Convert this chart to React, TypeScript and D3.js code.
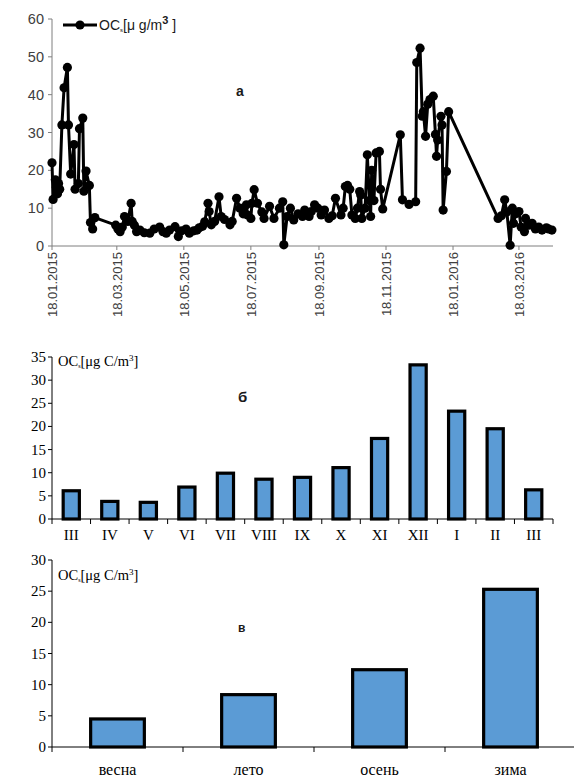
import React from "react";
import * as d3 from "d3";

// ---------- Chart а: daily OC ----------
const ocDates = [
  "2015-01-18","2015-01-19","2015-01-21","2015-01-22","2015-01-23","2015-01-24","2015-01-25","2015-01-27","2015-01-29","2015-02-01",
  "2015-02-02","2015-02-04","2015-02-07","2015-02-08","2015-02-11","2015-02-12","2015-02-15","2015-02-16","2015-02-18","2015-02-21",
  "2015-02-22","2015-02-24","2015-02-26","2015-03-17","2015-03-19","2015-03-21","2015-03-23","2015-03-25","2015-03-28","2015-03-31",
  "2015-04-01","2015-04-03","2015-04-05","2015-04-08","2015-04-12","2015-04-17","2015-04-21","2015-04-26","2015-04-29","2015-05-02",
  "2015-05-05","2015-05-10","2015-05-13","2015-05-16","2015-05-20","2015-05-23","2015-05-27","2015-05-30","2015-06-01","2015-06-04",
  "2015-06-06","2015-06-09","2015-06-10","2015-06-12","2015-06-15","2015-06-19","2015-06-21","2015-06-24","2015-06-29","2015-07-01",
  "2015-07-05","2015-07-08","2015-07-11","2015-07-14","2015-07-15","2015-07-18","2015-07-19","2015-07-21","2015-07-24","2015-07-28",
  "2015-07-30","2015-08-04","2015-08-08","2015-08-13","2015-08-16","2015-08-17","2015-08-20","2015-08-23","2015-08-26","2015-08-30",
  "2015-09-03","2015-09-05","2015-09-09","2015-09-11","2015-09-14","2015-09-17","2015-09-20","2015-09-23","2015-09-27","2015-09-30",
  "2015-10-03","2015-10-08","2015-10-10","2015-10-12","2015-10-14","2015-10-16","2015-10-18","2015-10-21","2015-10-23","2015-10-25",
  "2015-10-26","2015-10-27","2015-10-30","2015-11-01","2015-11-03","2015-11-04","2015-11-05","2015-11-07","2015-11-09","2015-11-12",
  "2015-11-13","2015-11-15","2015-12-01","2015-12-03","2015-12-09","2015-12-15","2015-12-16","2015-12-19","2015-12-21","2015-12-22",
  "2015-12-24","2015-12-26","2015-12-28","2015-12-31","2016-01-02","2016-01-03","2016-01-04","2016-01-07","2016-01-08","2016-01-09",
  "2016-01-12","2016-01-14","2016-02-28","2016-03-02","2016-03-05","2016-03-07","2016-03-10","2016-03-12","2016-03-13","2016-03-15",
  "2016-03-18","2016-03-20","2016-03-23","2016-03-24","2016-03-27","2016-03-30","2016-04-02","2016-04-05","2016-04-08","2016-04-12",
  "2016-04-14","2016-04-17",
];
const ocValues = [
  22, 12.3, 17.5, 15.5, 13.8, 16.5, 15, 32, 41.8, 47.2,
  32, 19, 26.8, 15, 16.5, 31, 33.8, 14.5, 19.8, 16,
  6.2, 4.5, 7.5, 5.5, 4.5, 3.8, 5, 7.8, 6.5, 11.3,
  6.5, 5.5, 3.8, 4.2, 3.5, 3.4, 4.5, 5, 3.8, 3.4,
  4.2, 5.1, 2.5, 4, 4.5, 3.4, 4, 4.2, 4.8, 5.2,
  6.4, 11.3, 9.1, 5.6, 6.5, 13, 7.8, 7, 5.6, 6.5,
  12.6, 10, 8.5, 10.9, 8.2, 7.3, 11.3, 14.9, 11.3, 9,
  7.3, 10.5, 7.3, 10, 11.7, 0.3, 7.8, 10, 6.9, 8.5,
  7.8, 9.5, 7.8, 9.1, 10.9, 10, 8.2, 9.5, 7.3, 8,
  12.6, 8.2, 10, 15.7, 16, 15, 8.2, 7.3, 10, 14.4,
  13.5, 7.3, 10, 24.1, 12, 7.8, 20, 12, 24.6, 25,
  15, 9.8, 29.4, 12.2, 11, 11.7, 48.5, 52.3, 34.3, 35.5,
  29, 37.5, 38.7, 39.6, 29.5, 23.7, 28, 34.3, 32, 9.5,
  19.7, 35.5, 7.3, 8, 12.2, 9, 0.2, 10, 6, 8.5,
  9.1, 5, 3.8, 7.3, 5.5, 6, 4.5, 5, 4.2, 4.8,
  4.5, 4.2,
];
const ocXDomain = ["2015-01-18", "2016-04-18"];
const ocXTicks = ["2015-01-18","2015-03-18","2015-05-18","2015-07-18","2015-09-18","2015-11-18","2016-01-18","2016-03-18"];
const ocYTicks = [0, 10, 20, 30, 40, 50, 60];

// ---------- Chart б: monthly means ----------
const months = ["III", "IV", "V", "VI", "VII", "VIII", "IX", "X", "XI", "XII", "I", "II", "III"];
const monthValues = [6.1, 3.8, 3.6, 6.9, 9.9, 8.6, 9.0, 11.1, 17.4, 33.3, 23.3, 19.5, 6.3];
const monthYTicks = [0, 5, 10, 15, 20, 25, 30, 35];

// ---------- Chart в: seasonal means ----------
const seasons = ["весна", "лето", "осень", "зима"];
const seasonValues = [4.5, 8.4, 12.4, 25.3];
const seasonYTicks = [0, 5, 10, 15, 20, 25, 30];

const SANS = "'Liberation Sans', Arial, sans-serif";
const SERIF = "'Liberation Serif', 'Times New Roman', serif";
const BAR_FILL = "#5b9bd5";

function TopChart() {
  const parse = d3.timeParse("%Y-%m-%d");
  const fmt = d3.timeFormat("%d.%m.%Y");
  const x = d3.scaleTime().domain(ocXDomain.map((d) => parse(d) as Date)).range([52, 553]);
  const y = d3.scaleLinear().domain([0, 60]).range([246, 19]);
  const pts = ocDates.map((d, i) => ({ date: parse(d) as Date, v: ocValues[i] }));
  const line = d3.line<{ date: Date; v: number }>().x((d) => x(d.date)).y((d) => y(d.v));
  const [x0, x1] = x.range();
  return (
    <g>
      {/* axes */}
      <line x1={x0} x2={x0} y1={y(60)} y2={y(0)} stroke="#7f7f7f" strokeWidth={1} />
      <line x1={x0} x2={x1} y1={y(0)} y2={y(0)} stroke="#7f7f7f" strokeWidth={1} />
      {ocYTicks.map((t) => (
        <g key={t}>
          <line x1={x0 - 4} x2={x0} y1={y(t)} y2={y(t)} stroke="#7f7f7f" />
          <text x={x0 - 8} y={y(t) + 5} textAnchor="end" fontFamily={SANS} fontSize={14.5} fill="#404040">{t}</text>
        </g>
      ))}
      {ocXTicks.map((t) => {
        const xx = x(parse(t) as Date);
        return (
          <g key={t}>
            <line x1={xx} x2={xx} y1={y(0)} y2={y(0) + 4} stroke="#7f7f7f" />
            <text transform={`translate(${xx + 5},${y(0) + 6}) rotate(-90)`} textAnchor="end" fontFamily={SANS} fontSize={13} fill="#404040">{fmt(parse(t) as Date)}</text>
          </g>
        );
      })}
      {/* series */}
      <path d={line(pts) || ""} fill="none" stroke="#000" strokeWidth={3} strokeLinejoin="round" />
      {pts.map((p, i) => (
        <circle key={i} cx={x(p.date)} cy={y(p.v)} r={4.6} fill="#000" />
      ))}
      {/* legend */}
      <line x1={63} x2={97} y1={25} y2={25} stroke="#000" strokeWidth={3} />
      <circle cx={80} cy={25} r={4.6} fill="#000" />
      <text x={99} y={30} fontFamily={SANS} fontSize={14} fill="#1a1a1a">
        OC<tspan fontSize={6} dy={2}>s</tspan><tspan dy={-2}>[μ g/m</tspan>
        <tspan fontSize={11} fontWeight="bold" dy={-6}>3</tspan><tspan dy={6}> ]</tspan>
      </text>
      <text x={236} y={96} fontFamily={SANS} fontSize={14} fontWeight="bold" fill="#1a1a1a">а</text>
    </g>
  );
}

function BarChart(props: {
  cats: string[]; vals: number[]; ticks: number[]; yMax: number;
  left: number; right: number; top: number; bottom: number;
  barFrac: number; labelSize: number; labelDy: number;
  tag: string; tagX: number; tagY: number; tagSize: number; legendY: number;
}) {
  const { cats, vals, ticks, yMax, left, right, top, bottom, barFrac, labelSize, labelDy, tag, tagX, tagY, tagSize, legendY } = props;
  const keys = cats.map((c, i) => `${i}`);
  const x = d3.scaleBand<string>().domain(keys).range([left, right]).padding(0);
  const y = d3.scaleLinear().domain([0, yMax]).range([bottom, top]);
  const bw = x.bandwidth() * barFrac;
  return (
    <g>
      {vals.map((v, i) => {
        const cx = (x(keys[i]) as number) + x.bandwidth() / 2;
        return (
          <rect key={i} x={cx - bw / 2} y={y(v)} width={bw} height={y(0) - y(v)} fill={BAR_FILL} stroke="#000" strokeWidth={3.2} />
        );
      })}
      <line x1={left} x2={left} y1={top} y2={bottom} stroke="#000" strokeWidth={1} />
      <line x1={left} x2={right} y1={bottom} y2={bottom} stroke="#000" strokeWidth={1} />
      {ticks.map((t) => (
        <g key={t}>
          <line x1={left - 4} x2={left} y1={y(t)} y2={y(t)} stroke="#000" />
          <text x={left - 6} y={y(t) + 5} textAnchor="end" fontFamily={SERIF} fontSize={15} fill="#000">{t}</text>
        </g>
      ))}
      {keys.map((k, i) => (
        <line key={`t${i}`} x1={x(k) as number} x2={x(k) as number} y1={bottom} y2={bottom + 5} stroke="#000" />
      ))}
      <line x1={right} x2={right} y1={bottom} y2={bottom + 5} stroke="#000" />
      {cats.map((c, i) => (
        <text key={`l${i}`} x={(x(keys[i]) as number) + x.bandwidth() / 2} y={bottom + labelDy} textAnchor="middle" fontFamily={SERIF} fontSize={labelSize} fill="#000">{c}</text>
      ))}
      <text x={left + 6} y={legendY} fontFamily={SERIF} fontSize={14.5} fill="#000">
        OC<tspan fontSize={6} dy={2}>s</tspan><tspan dy={-2}>[μg  C/m</tspan><tspan fontSize={9} dy={-5}>3</tspan><tspan dy={5}>]</tspan>
      </text>
      <text x={tagX} y={tagY} fontFamily={SANS} fontSize={tagSize} fontWeight="bold" fill="#1a1a1a">{tag}</text>
    </g>
  );
}

export default function App() {
  return (
    <svg width={574} height={780} style={{ position: "absolute", left: 0, top: 0, background: "#fff" }}>
      <rect width={574} height={780} fill="#fff" />
      <TopChart />
      <BarChart cats={months} vals={monthValues} ticks={monthYTicks} yMax={35}
        left={52} right={553} top={357} bottom={519} barFrac={0.42} labelSize={15} labelDy={21}
        tag="б" tagX={238} tagY={402} tagSize={15} legendY={366} />
      <BarChart cats={seasons} vals={seasonValues} ticks={seasonYTicks} yMax={30}
        left={52} right={576} top={560} bottom={747} barFrac={0.41} labelSize={16} labelDy={28}
        tag="в" tagX={238} tagY={632} tagSize={12} legendY={580} />
    </svg>
  );
}
